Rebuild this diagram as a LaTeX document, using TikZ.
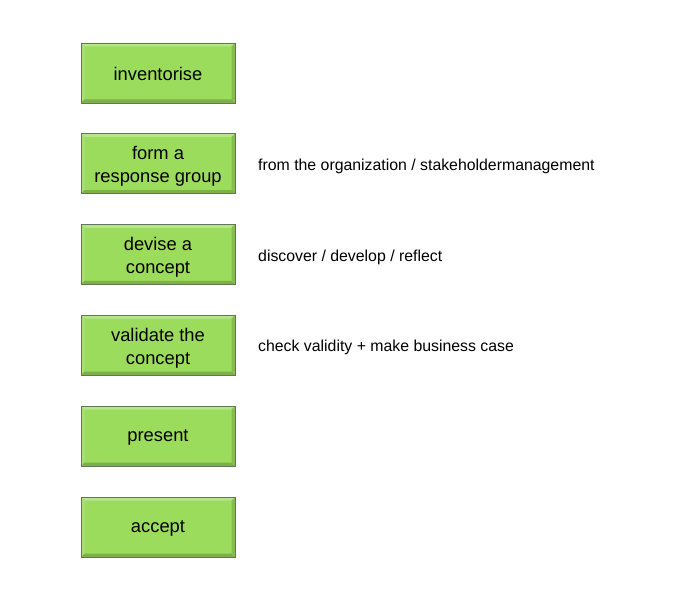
\documentclass[tikz,border=0pt]{standalone}
\usepackage{fontspec}
\setmainfont{Liberation Sans}
\usetikzlibrary{backgrounds}
\definecolor{boxfill}{HTML}{9CDC5C}
\definecolor{boxline}{HTML}{66745A}
\definecolor{bevlight}{HTML}{B4E68A}
\definecolor{bevside}{HTML}{A6E070}
\definecolor{bevdark}{HTML}{84BE4E}
\definecolor{bevdarker}{HTML}{7CB048}
\tikzset{
  stepbox/.style={
    draw=boxline, line width=0.7bp, fill=boxfill,
    minimum width=154bp, minimum height=60bp, inner sep=0pt,
    path picture={
      \fill[bevlight] (path picture bounding box.north west) -- (path picture bounding box.north east)
        -- ([xshift=-3.5bp,yshift=-3.5bp]path picture bounding box.north east)
        -- ([xshift=3.5bp,yshift=-3.5bp]path picture bounding box.north west) -- cycle;
      \fill[bevside] (path picture bounding box.north west) -- ([xshift=3.5bp,yshift=-3.5bp]path picture bounding box.north west)
        -- ([xshift=3.5bp,yshift=3.5bp]path picture bounding box.south west)
        -- (path picture bounding box.south west) -- cycle;
      \fill[bevdark] (path picture bounding box.north east) -- ([xshift=-3.5bp,yshift=-3.5bp]path picture bounding box.north east)
        -- ([xshift=-3.5bp,yshift=3.5bp]path picture bounding box.south east)
        -- (path picture bounding box.south east) -- cycle;
      \fill[bevdarker] (path picture bounding box.south west) -- ([xshift=3.5bp,yshift=3.5bp]path picture bounding box.south west)
        -- ([xshift=-3.5bp,yshift=3.5bp]path picture bounding box.south east)
        -- (path picture bounding box.south east) -- cycle;
    }
  },
  steplabel/.style={inner sep=0pt, align=center, text=black, yshift=-1.2bp,
    font=\fontsize{18.4}{22.6}\selectfont},
  twoline/.style={yshift=-1.8bp},
  note/.style={anchor=base west, inner sep=0pt, text=black,
    font=\fontsize{15.9}{19}\selectfont}
}
\begin{document}
\begin{tikzpicture}[x=1bp,y=-1bp]
\useasboundingbox (0,0) rectangle (690,600);
\fill[white] (0,0) rectangle (690,600);
\node[stepbox] (b1) at (158,73) {};
\node[stepbox] (b2) at (158,163.5) {};
\node[stepbox] (b3) at (158,254.3) {};
\node[stepbox] (b4) at (158,345.2) {};
\node[stepbox] (b5) at (158,436) {};
\node[stepbox] (b6) at (158,527) {};
\node[steplabel] (l1) at (b1) {inventorise};
\node[steplabel,twoline] (l2) at (b2) {form a\\response group};
\node[steplabel,twoline] (l3) at (b3) {devise a\\concept};
\node[steplabel,twoline] (l4) at (b4) {validate the\\concept};
\node[steplabel] (l5) at (b5) {present};
\node[steplabel] (l6) at (b6) {accept};
\node[note] (t2) at (258,170.3) {from the organization / stakeholdermanagement};
\node[note] (t3) at (258,261) {discover / develop / reflect};
\node[note] (t4) at (258,351.8) {check validity + make business case};
\begin{scope}[on background layer]
  \foreach \n in {b1,b2,b3,b4,b5,b6}{
    \foreach \s/\o in {5/0.10,4/0.12,3/0.14,2/0.17,1/0.20}{
      \fill[black,opacity=\o,rounded corners=\s bp]
        ([xshift=-\s bp+3bp,yshift=\s bp-3bp]\n.north west) rectangle
        ([xshift=\s bp+3bp,yshift=-\s bp-3bp]\n.south east);
    }
  }
\end{scope}
\end{tikzpicture}
\end{document}
